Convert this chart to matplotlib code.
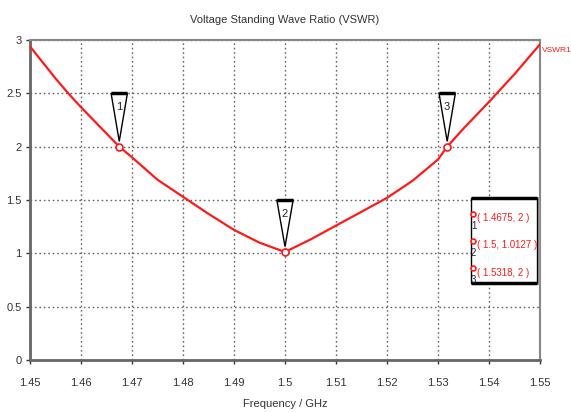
import matplotlib
matplotlib.use("Agg")
import matplotlib.pyplot as plt
from matplotlib.patches import Polygon, Rectangle

plt.rcParams['font.family'] = ['Liberation Sans Narrow', 'Liberation Sans', 'DejaVu Sans']

# VSWR trace
freq = [1.45, 1.455, 1.4575, 1.46, 1.4675, 1.47, 1.475, 1.48, 1.485, 1.49, 1.495,
        1.5, 1.505, 1.51, 1.515, 1.52, 1.525, 1.53, 1.5318, 1.535, 1.54, 1.545, 1.55]
vswr = [2.94, 2.64, 2.5, 2.37, 2.0, 1.90, 1.69, 1.53, 1.37, 1.22, 1.10,
        1.0127, 1.13, 1.26, 1.39, 1.52, 1.68, 1.88, 2.0, 2.17, 2.42, 2.68, 2.96]

# markers
marker_ids = ['1', '2', '3']
marker_freq = [1.4675, 1.5, 1.5318]
marker_val = [2.0, 1.0127, 2.0]
marker_text = ['( 1.4675, 2 )', '( 1.5, 1.0127 )', '( 1.5318, 2 )']

xticks = [1.45, 1.46, 1.47, 1.48, 1.49, 1.5, 1.51, 1.52, 1.53, 1.54, 1.55]
xticklabels = ['1.45', '1.46', '1.47', '1.48', '1.49', '1.5', '1.51', '1.52', '1.53', '1.54', '1.55']
yticks = [0, 0.5, 1, 1.5, 2, 2.5, 3]
yticklabels = ['0', '0.5', '1', '1.5', '2', '2.5', '3']

red = '#ff1a1a'
fig = plt.figure(figsize=(5.71, 4.12), dpi=100)
ax = fig.add_axes([30/571, 52/412, 510/571, 320/412])
ax.set_xlim(1.45, 1.55)
ax.set_ylim(0, 3)

ax.plot(freq, vswr, color=red, lw=1.6, zorder=3)
ax.plot(marker_freq, marker_val, 'o', ms=5, mfc='white', mec=red, mew=1.2, zorder=4)

ax.set_xticks(xticks)
ax.set_xticklabels(xticklabels)
ax.set_yticks(yticks)
ax.set_yticklabels(yticklabels)
ax.tick_params(axis='both', labelsize=8, colors='#333333', length=3, width=1, direction='out')
ax.tick_params(axis='x', pad=10)
ax.tick_params(axis='y', pad=3)
ax.grid(True, color='#666666', linestyle=(0, (1.2, 2.0)), lw=1.0)

for side in ['left', 'bottom']:
    ax.spines[side].set_color('#666666')
    ax.spines[side].set_linewidth(2)
for side in ['top', 'right']:
    ax.spines[side].set_color('#888888')
    ax.spines[side].set_linewidth(1.5)

ax.set_title('Voltage Standing Wave Ratio (VSWR)', fontsize=8, color='#333333', pad=12)
ax.set_xlabel('Frequency / GHz', fontsize=8, color='#333333', labelpad=8)

# triangle flags above markers
half_w = 0.0016
for mid, f, v in zip(marker_ids, marker_freq, marker_val):
    top = v + 0.5 if v > 1.5 else 1.5
    tip = v + 0.05
    tri = Polygon([(f - half_w, top), (f + half_w, top), (f, tip)], closed=True,
                  fc='white', ec='black', lw=1.0, zorder=5)
    ax.add_patch(tri)
    ax.plot([f - half_w, f + half_w], [top, top], color='black', lw=2.5, zorder=6,
            solid_capstyle='butt')
    ax.text(f, top - 0.13, mid, ha='center', va='center', fontsize=8, color='#222222', zorder=7)

ax.text(1.5504, 2.9, 'VSWR1', color=red, fontsize=6, ha='left', va='center', clip_on=False)

# marker readout box
bx0, bx1 = 1.5364, 1.5494
by0, by1 = 0.72, 1.52
ax.add_patch(Rectangle((bx0, by0), bx1 - bx0, by1 - by0, fc='white', ec='black', lw=1.0, zorder=8))
ax.plot([bx0, bx1], [by1, by1], color='black', lw=2.5, zorder=9, solid_capstyle='butt')
ax.plot([bx0, bx1], [by0, by0], color='black', lw=2.5, zorder=9, solid_capstyle='butt')
ax.plot([bx1 + 0.0002, bx1 + 0.0002], [by0, by1], color='#999999', lw=2.0, zorder=7)
rows_y = [1.33, 1.075, 0.82]
for mid, txt, ry in zip(marker_ids, marker_text, rows_y):
    ax.plot([bx0 + 0.0005], [ry + 0.04], 'o', ms=3.5, mfc='white', mec=red, mew=1.2, zorder=10)
    ax.text(bx0 + 0.0006, ry - 0.07, mid, fontsize=7, color='#222244', ha='center', va='center', zorder=10)
    ax.text(bx0 + 0.0013, ry, txt, fontsize=7, color=red, ha='left', va='center', zorder=10)

fig.savefig('out.png', dpi=100)
